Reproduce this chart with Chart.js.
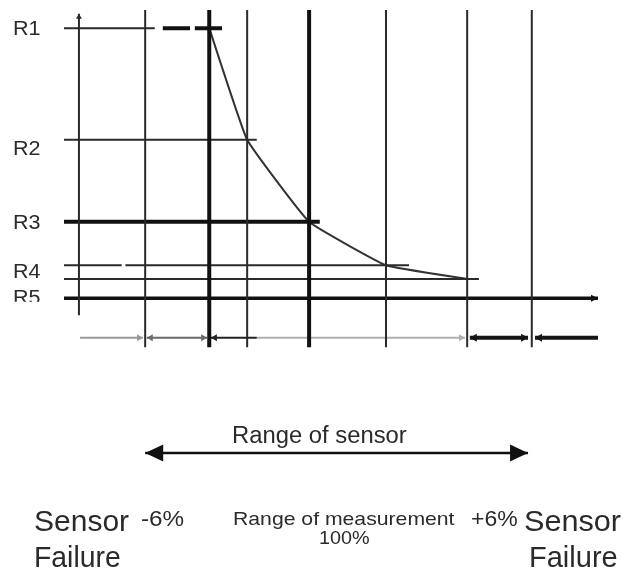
<!DOCTYPE html>
<html>
<head>
<meta charset="utf-8">
<script src="https://cdn.jsdelivr.net/npm/chart.js@4.4.1/dist/chart.umd.min.js"></script>
<style>
  html, body { margin: 0; padding: 0; background: #fff; }
  #wrap { position: relative; width: 623px; height: 569px; overflow: hidden; }
  #diagram { position: absolute; left: 0; top: 0; }
  .lbl {
    position: absolute;
    font-family: "Liberation Sans", Arial, sans-serif;
    color: #2a2a2a;
    white-space: nowrap;
    line-height: 1;
    transform-origin: 0 0;
  }
</style>
</head>
<body>
<div id="wrap"><canvas id="diagram" width="623" height="569"></canvas></div>
<script>
// Diagram units: x runs 0..100 across the plot, y runs 0..100 bottom to top.
const gridPositions = [15.2, 27.2, 34.3, 45.9, 60.3, 75.5, 87.6];
const boldPositions = [27.2, 45.9];
const levelNames = ['R1', 'R2', 'R3', 'R4', '', 'R5'];
const levelValues = [96.7, 76.4, 61.5, 53.6, 51.1, 47.6];
const levelReach = [17.0, 36.1, 47.9, 64.6, 77.7, 100];
const r1Dashes = [[18.5, 23.6], [24.5, 29.6]];
const r4Break = [10.8, 11.5];

// sensor characteristic: resistance level reached at each position
const curveX = [27.2, 34.3, 45.9, 60.3, 75.5];
const curveY = [96.7, 76.4, 61.5, 53.6, 51.1];

const axisX = 2.8;
const axisSpan = [44.5, 99.3];
const gridSpan = [38.7, 100];

// bottom row of arrows under the grid
const rowLevel = 40.4;
const rowSegments = [[3.0, 14.8], [15.5, 26.8], [27.5, 36.1], [36.1, 75.1], [76.0, 86.9], [88.2, 100]];

// "Range of sensor" arrow
const rangeLevel = 19.45;
const rangeSpan = [15.2, 86.9];

function hLine(x0, x1, y) { return [{ x: x0, y }, { x: x1, y }]; }
function vLine(x, y0, y1) { return [{ x, y: y0 }, { x, y: y1 }]; }
function withGaps(segs) {
  const out = [];
  segs.forEach((s, i) => {
    if (i) out.push({ x: s[0].x, y: null });
    out.push(...s);
  });
  return out;
}

function lineSet(data, color, width, extra = {}) {
  return Object.assign({
    data,
    showLine: true,
    borderColor: color,
    backgroundColor: color,
    borderWidth: width,
    pointRadius: 0,
    tension: 0,
    spanGaps: false
  }, extra);
}

const thinGrid = gridPositions.filter(x => !boldPositions.includes(x));
const thinLevelSegs = [
  hLine(0, levelReach[0], levelValues[0]),
  hLine(0, levelReach[1], levelValues[1]),
  hLine(0, r4Break[0], levelValues[3]),
  hLine(r4Break[1], levelReach[3], levelValues[3]),
  hLine(0, levelReach[4], levelValues[4])
];

const rowStyles = [
  { color: '#9a9a9a', width: 2, arrow: { end: true, size: [6, 3.5] } },
  { color: '#6a6a6a', width: 2, arrow: { start: true, end: true, size: [6, 3.5] } },
  { color: '#222', width: 2, arrow: { start: true, size: [6, 3.5] } },
  { color: '#b0b0b0', width: 2, arrow: { end: true, size: [6, 3.5] } },
  { color: '#151515', width: 4, arrow: { start: true, end: true, size: [7, 4] } },
  { color: '#151515', width: 4, arrow: { start: true, size: [7, 4] } }
];

const datasets = [
  lineSet(withGaps(thinGrid.map(x => vLine(x, gridSpan[0], gridSpan[1]))), '#2a2a2a', 2),
  lineSet(withGaps(boldPositions.map(x => vLine(x, gridSpan[0], gridSpan[1]))), '#111', 4),
  lineSet(vLine(axisX, axisSpan[0], axisSpan[1]), '#2a2a2a', 2, { arrow: { end: true, size: [5, 3] } }),
  lineSet(withGaps(thinLevelSegs), '#2a2a2a', 2),
  lineSet(hLine(0, levelReach[2], levelValues[2]), '#111', 4),
  lineSet(hLine(0, levelReach[5], levelValues[5]), '#111', 3.5, { arrow: { end: true, size: [7, 3.5] } }),
  lineSet(withGaps(r1Dashes.map(d => hLine(d[0], d[1], levelValues[0]))), '#111', 4),
  lineSet(curveX.map((x, i) => ({ x, y: curveY[i] })), '#333', 2, { tension: 0.1 }),
  ...rowSegments.map((s, i) => lineSet(hLine(s[0], s[1], rowLevel), rowStyles[i].color, rowStyles[i].width,
    { arrow: rowStyles[i].arrow })),
  lineSet(hLine(rangeSpan[0], rangeSpan[1], rangeLevel), '#111', 2.5,
    { arrow: { start: true, end: true, size: [18, 8.5] } })
];

const arrowHeads = {
  id: 'arrowHeads',
  afterDatasetsDraw(chart) {
    const ctx = chart.ctx;
    chart.data.datasets.forEach((ds, i) => {
      if (!ds.arrow) return;
      const pts = chart.getDatasetMeta(i).data;
      const [len, half] = ds.arrow.size;
      const draw = (tip, from) => {
        const ang = Math.atan2(tip.y - from.y, tip.x - from.x);
        ctx.save();
        ctx.translate(tip.x, tip.y);
        ctx.rotate(ang);
        ctx.beginPath();
        ctx.moveTo(0, 0);
        ctx.lineTo(-len, -half);
        ctx.lineTo(-len, half);
        ctx.closePath();
        ctx.fillStyle = ds.borderColor;
        ctx.fill();
        ctx.restore();
      };
      if (ds.arrow.end) draw(pts[pts.length - 1], pts[pts.length - 2]);
      if (ds.arrow.start) draw(pts[0], pts[1]);
    });
  }
};

const chart = new Chart(document.getElementById('diagram'), {
  type: 'scatter',
  data: { datasets },
  options: {
    responsive: false,
    animation: false,
    layout: { padding: { left: 64, right: 25, top: 10, bottom: 9 } },
    plugins: { legend: { display: false }, tooltip: { enabled: false } },
    scales: {
      x: { type: 'linear', min: 0, max: 100, display: false },
      y: { type: 'linear', min: 0, max: 100, display: false }
    }
  },
  plugins: [arrowHeads]
});

// text, placed as real HTML text over the canvas
const wrap = document.getElementById('wrap');
function place(text, left, baseline, size, width, clip) {
  const el = document.createElement('div');
  el.className = 'lbl';
  el.textContent = text;
  el.style.fontSize = size + 'px';
  el.style.left = left + 'px';
  el.style.top = (baseline - 0.8465 * size) + 'px';
  if (clip) el.style.clipPath = 'inset(0 0 ' + clip + ' 0)';
  wrap.appendChild(el);
  const natural = el.offsetWidth;
  if (width && natural) el.style.transform = 'scaleX(' + (width / natural) + ')';
  return el;
}

const labelNudge = { R2: 8, R4: 6, R5: -1 };
levelNames.forEach((name, i) => {
  if (!name) return;
  const center = chart.scales.y.getPixelForValue(levelValues[i]) + (labelNudge[name] || 0);
  place(name, 13, center + 0.358 * 20, 20, 28, name === 'R5' ? '28%' : null);
});

place('Range of sensor', 232, 443, 23, 175);
place('Sensor', 34, 531, 30, 95);
place('Failure', 34, 567, 30, 87);
place('-6%', 141, 527, 22, 43);
place('Range of measurement', 233, 525, 19, 222);
place('100%', 319, 544, 19, 51);
place('+6%', 471, 527, 22, 47);
place('Sensor', 524, 531, 30, 97);
place('Failure', 529, 567, 30, 89);
</script>
</body>
</html>
